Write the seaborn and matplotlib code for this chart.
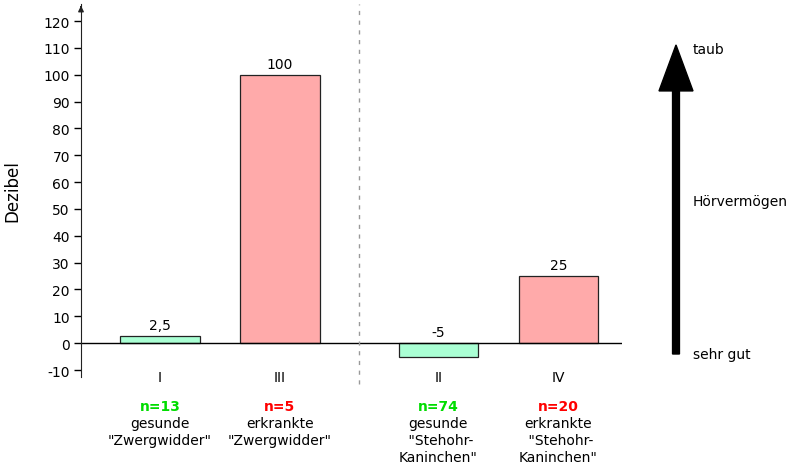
import numpy as np
import pandas as pd
import matplotlib
matplotlib.use("Agg")
import matplotlib.pyplot as plt
import seaborn as sns
from matplotlib.patches import FancyArrow

groups = ["I", "III", "II", "IV"]
dezibel = [2.5, 100, -5, 25]
value_labels = ["2,5", "100", "-5", "25"]
n_labels = ["n=13", "n=5", "n=74", "n=20"]
descriptions = ['gesunde\n"Zwergwidder"', 'erkrankte\n"Zwergwidder"',
                'gesunde\n "Stehohr-\nKaninchen"', 'erkrankte\n "Stehohr-\nKaninchen"']
status = ["gesund", "erkrankt", "gesund", "erkrankt"]
y_ticks = [-10, 0, 10, 20, 30, 40, 50, 60, 70, 80, 90, 100, 110, 120]

fill = {"gesund": "#aaffd4", "erkrankt": "#ffaaaa"}
ncol = {"gesund": "#00dd00", "erkrankt": "#ff0000"}

# two groups of two bars, with a wider gap between groups
pos = [0, 1, 2.32, 3.32]
df = pd.DataFrame({"pos": pos, "dB": dezibel, "status": status})

sns.set_style("white")
plt.rcParams["font.family"] = ["DejaVu Sans"]
plt.rcParams["axes.unicode_minus"] = False
plt.rcParams["text.color"] = "black"
plt.rcParams["axes.labelcolor"] = "black"
plt.rcParams["xtick.color"] = "black"
plt.rcParams["ytick.color"] = "black"

fig = plt.figure(figsize=(8, 4.64), dpi=100)
ax = fig.add_axes([0.10125, 0.1853, 0.6763, 0.8037])

sns.barplot(data=df, x="pos", y="dB", hue="status", palette=fill,
            native_scale=True, width=0.66, dodge=False, legend=False,
            saturation=1, edgecolor="#222222", linewidth=0.9, ax=ax)

ax.set_xlim(-0.658, 3.85)
ax.set_ylim(-12.6, 126.3)
ax.set_yticks(y_ticks)
ax.tick_params(axis="y", direction="out", length=5, width=1, labelsize=10, left=True, pad=3)
ax.set_xticks(pos)
ax.set_xticklabels(groups, fontsize=10)
ax.tick_params(axis="x", length=0, pad=-5)
ax.set_xlabel("")
ax.set_ylabel("Dezibel", fontsize=12, labelpad=16)

for side in ["top", "right", "bottom"]:
    ax.spines[side].set_visible(False)
ax.spines["left"].set_color("#222222")
ax.annotate("", xy=(0, 1.003), xytext=(0, 0.985), xycoords="axes fraction",
            arrowprops=dict(arrowstyle="-|>", color="#222222", lw=1, mutation_scale=8))

ax.axhline(0, color="black", lw=1, zorder=1)
ax.axvline(1.658, ymin=-0.02, ymax=1, color="#999999", lw=1,
           linestyle=(0, (3, 4)), clip_on=False)

for x, v, lab in zip(pos, dezibel, value_labels):
    ax.text(x, max(v, 0) + 1.5, lab, ha="center", va="bottom", fontsize=10)

for x, n, d, s in zip(pos, n_labels, descriptions, status):
    ax.text(x, -23.3, n, ha="center", va="center", fontsize=10,
            fontweight="bold", color=ncol[s], clip_on=False)
    ax.text(x, -27.2, d, ha="center", va="top", fontsize=10,
            linespacing=1.28, clip_on=False)

# right hand arrow: Hörvermögen
fig.patches.append(FancyArrow(676 / 800, (464 - 355) / 464, 0, (355 - 45) / 464 - 0.002,
                              width=4 / 464, head_width=34 / 800, head_length=46 / 464,
                              length_includes_head=True, color="black",
                              transform=fig.transFigure, figure=fig))
fig.text(693 / 800, 1 - 50 / 464, "taub", fontsize=10, va="center")
fig.text(693 / 800, 1 - 202 / 464, "Hörvermögen", fontsize=10, va="center")
fig.text(693 / 800, 1 - 355 / 464, "sehr gut", fontsize=10, va="center")

fig.savefig("out.png", dpi=100)
